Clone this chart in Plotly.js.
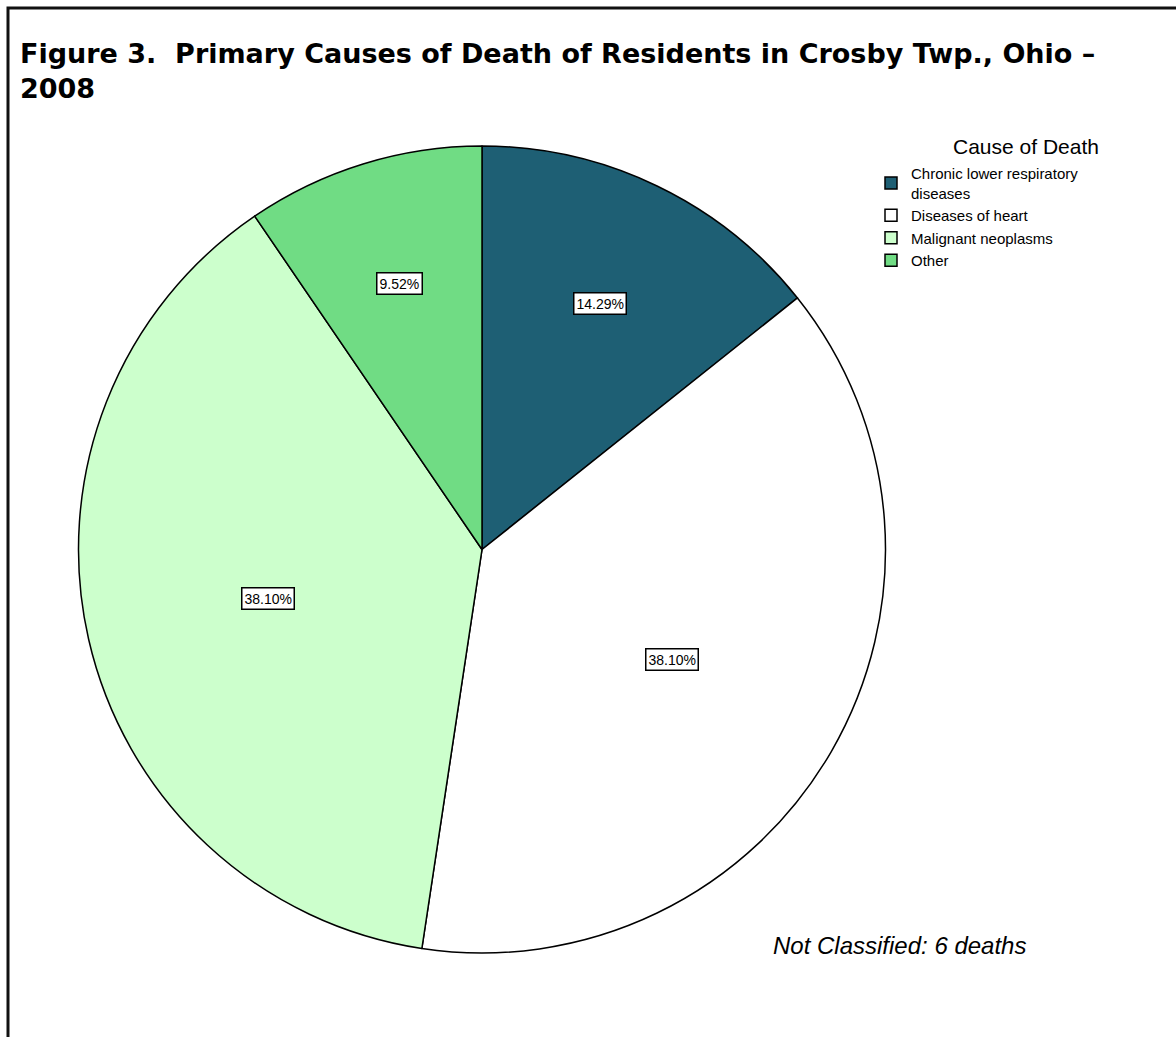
<!DOCTYPE html>
<html>
<head>
<meta charset="utf-8">
<script src="https://cdn.plot.ly/plotly-3.0.1.min.js"></script>
<style>html,body{margin:0;padding:0;background:#fff;}#chart{width:1176px;height:1037px;}</style>
</head>
<body>
<div id="chart"></div>
<script>
// Data
const causes = ["Chronic lower respiratory<br>diseases", "Diseases of heart", "Malignant neoplasms", "Other"];
const deaths = [3, 8, 8, 2];
const sliceColors = ["#1E5F74", "#FFFFFF", "#CCFFCC", "#70DC84"];
const titleText = "Figure 3.  Primary Causes of Death of Residents in Crosby Twp., Ohio –<br>2008";
const legendTitle = "Cause of Death";
const noteText = "Not Classified: 6 deaths";

const W = 1176, H = 1037;
const FONT = "Liberation Sans, Arial, sans-serif";
// pie geometry (pixels)
const pieCx = 482, pieCy = 549.5, pieR = 403.5;
const domX = [(pieCx - pieR) / W, (pieCx + pieR) / W];
const domY = [1 - (pieCy + pieR) / H, 1 - (pieCy - pieR) / H];

// Label annotations computed from data: near slice centroid
const total = deaths.reduce((a, b) => a + b, 0);
const annotations = [];
let cum = 0;
deaths.forEach((v, i) => {
  const frac = v / total;
  const a0 = cum * 2 * Math.PI, a1 = (cum + frac) * 2 * Math.PI;
  cum += frac;
  const mid = (a0 + a1) / 2;
  const half = (a1 - a0) / 2;
  const d = 1.05 * pieR * (2 * Math.sin(half)) / (3 * half);
  const px = pieCx + d * Math.sin(mid);
  const py = pieCy - d * Math.cos(mid);
  annotations.push({
    x: px / W, y: 1 - py / H, xref: "paper", yref: "paper",
    xanchor: "center", yanchor: "middle",
    text: (frac * 100).toFixed(2) + "%",
    showarrow: false,
    font: {family: FONT, size: 14, color: "#000"},
    bgcolor: "#FFFFFF", bordercolor: "#000000", borderwidth: 1.5, borderpad: 2
  });
});
annotations.push({
  x: 899 / W, y: 1 - 945 / H, xref: "paper", yref: "paper",
  xanchor: "center", yanchor: "middle",
  text: noteText, showarrow: false,
  font: {family: FONT, size: 24, color: "#000", style: "italic"}
});
annotations.push({
  x: 1026 / W, y: 1 - 146 / H, xref: "paper", yref: "paper",
  xanchor: "center", yanchor: "middle",
  text: legendTitle, showarrow: false,
  font: {family: FONT, size: 21, color: "#000"}
});

const trace = {
  type: "pie",
  labels: causes,
  values: deaths,
  sort: false,
  direction: "clockwise",
  rotation: 0,
  textinfo: "none",
  hoverinfo: "label+percent",
  marker: {colors: sliceColors, line: {color: "#000000", width: 1.5}},
  domain: {x: domX, y: domY}
};

const layout = {
  width: W, height: H,
  margin: {l: 0, r: 0, t: 0, b: 0},
  paper_bgcolor: "#FFFFFF",
  title: {
    text: titleText,
    x: 20 / W, xanchor: "left", xref: "paper",
    y: 1 - 63 / H, yanchor: "top", yref: "paper",
    font: {family: "DejaVu Sans, sans-serif", size: 27, color: "#000", weight: "bold"}
  },
  showlegend: true,
  legend: {
    x: 871 / W, xanchor: "left",
    y: 1 - 157 / H, yanchor: "top",
    font: {family: FONT, size: 15, color: "#000"},
    bgcolor: "rgba(0,0,0,0)",
    tracegroupgap: 0
  },
  annotations: annotations,
  shapes: [{
    type: "path", xref: "paper", yref: "paper",
    path: "M " + (8 / W) + "," + (-0.01) + " L " + (8 / W) + "," + (1 - 8 / H) + " L 1.01," + (1 - 8 / H),
    line: {color: "#111", width: 3}
  }]
};

Plotly.newPlot("chart", [trace], layout, {displayModeBar: false, staticPlot: true});
</script>
</body>
</html>
